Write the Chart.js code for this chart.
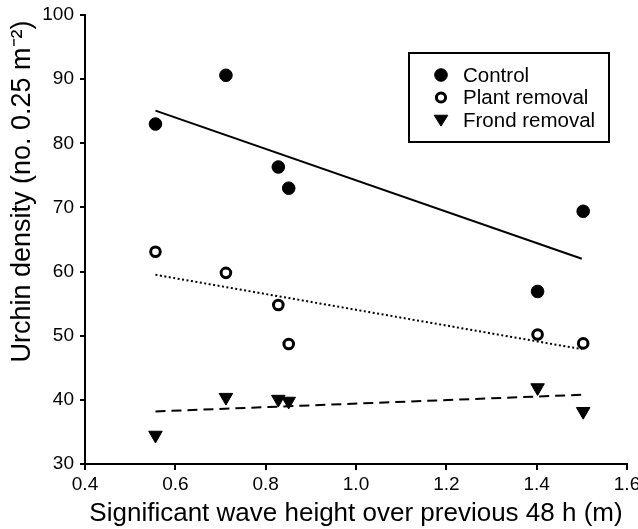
<!DOCTYPE html>
<html>
<head>
<meta charset="utf-8">
<script src="https://cdn.jsdelivr.net/npm/chart.js@4.4.0/dist/chart.umd.min.js"></script>
<style>
  html, body { margin: 0; padding: 0; background: #fff; }
  #wrap { width: 638px; height: 529px; }
</style>
</head>
<body>
<div id="wrap"><canvas id="chart" width="638" height="529"></canvas></div>
<script>
// wave height (m) for each sampling date
const waveHeight = [0.556, 0.712, 0.828, 0.851, 1.402, 1.503];

// urchin density per treatment
const controlDensity = [83.0, 90.6, 76.3, 73.0, 56.9, 69.4];
const plantDensity = [63.1, 59.8, 54.8, 48.7, 50.2, 48.8];
const frondDensity = [34.5, 40.4, 40.1, 39.8, 41.9, 38.2];

// fitted lines, read at their two ends
const fitX = [0.556, 1.5];
const controlFit = [85.1, 62.0];
const plantFit = [59.5, 47.9];
const frondFit = [38.2, 40.8];

const xTicks = [0.4, 0.6, 0.8, 1.0, 1.2, 1.4, 1.6];

const FONT = "'Liberation Sans', Arial, Helvetica, sans-serif";

function pts(xs, ys) {
  return xs.map(function (x, i) {
    return { x: x, y: ys[i] };
  });
}

// legend drawn inside the plot, with a box round it
const boxLegend = {
  id: "boxLegend",
  afterDraw(chart) {
    const ctx = chart.ctx;
    const area = chart.chartArea;
    const left = area.right - 218;
    const top = area.top + 38;
    ctx.save();
    ctx.lineWidth = 2;
    ctx.strokeStyle = "#000";
    ctx.strokeRect(left, top, 200, 89);

    const items = chart.data.datasets.filter(function (d) {
      return !d.isFit;
    });
    ctx.font = "20.5px " + FONT;
    ctx.textBaseline = "middle";
    items.forEach(function (d, i) {
      const cy = top + 22 + i * 22.5;
      const cx = left + 32;
      ctx.fillStyle = d.backgroundColor;
      ctx.strokeStyle = "#000";
      ctx.lineWidth = d.borderWidth;
      ctx.beginPath();
      if (d.pointStyle === "circle") {
        ctx.arc(cx, cy, d.legendRadius, 0, Math.PI * 2);
      } else {
        const r = d.legendRadius;
        ctx.moveTo(cx - r, cy - r * 0.7);
        ctx.lineTo(cx + r, cy - r * 0.7);
        ctx.lineTo(cx, cy + r * 0.9);
        ctx.closePath();
      }
      ctx.fill();
      ctx.stroke();
      ctx.fillStyle = "#000";
      ctx.fillText(d.label, left + 54, cy + 1);
    });
    ctx.restore();
  },
};

const chart = new Chart(document.getElementById("chart"), {
  type: "scatter",
  data: {
    datasets: [
      {
        label: "Control",
        data: pts(waveHeight, controlDensity),
        pointStyle: "circle",
        pointRadius: 6.3,
        legendRadius: 6.3,
        backgroundColor: "#000",
        borderColor: "#000",
        borderWidth: 1,
      },
      {
        label: "Plant removal",
        data: pts(waveHeight, plantDensity),
        pointStyle: "circle",
        pointRadius: 4.8,
        legendRadius: 4.6,
        backgroundColor: "#fff",
        borderColor: "#000",
        borderWidth: 3,
      },
      {
        label: "Frond removal",
        data: pts(waveHeight, frondDensity),
        pointStyle: "triangle",
        rotation: 180,
        pointRadius: 7.8,
        legendRadius: 6.8,
        backgroundColor: "#000",
        borderColor: "#000",
        borderWidth: 1,
      },
      {
        label: "Control fit",
        isFit: true,
        type: "line",
        data: pts(fitX, controlFit),
        borderColor: "#000",
        borderWidth: 2,
        pointRadius: 0,
      },
      {
        label: "Plant removal fit",
        isFit: true,
        type: "line",
        data: pts(fitX, plantFit),
        borderColor: "#000",
        borderWidth: 2,
        borderDash: [2, 2.5],
        pointRadius: 0,
      },
      {
        label: "Frond removal fit",
        isFit: true,
        type: "line",
        data: pts(fitX, frondFit),
        borderColor: "#000",
        borderWidth: 2,
        borderDash: [10, 6],
        pointRadius: 0,
      },
    ],
  },
  options: {
    responsive: false,
    animation: false,
    layout: { padding: 0 },
    plugins: {
      legend: { display: false },
      tooltip: { enabled: false },
    },
    scales: {
      x: {
        type: "linear",
        min: 0.4,
        max: 1.6,
        afterBuildTicks(scale) {
          scale.ticks = xTicks.map(function (v) {
            return { value: v };
          });
        },
        afterFit(scale) {
          scale.height = 65;
          scale.paddingRight = 11;
          scale.paddingLeft = 0;
        },
        ticks: {
          color: "#000",
          font: { family: FONT, size: 19 },
          padding: 3,
          maxRotation: 0,
          callback: function (v) {
            return v.toFixed(1);
          },
        },
        grid: {
          drawOnChartArea: false,
          drawTicks: true,
          tickLength: 6,
          color: "#000",
          lineWidth: 2,
        },
        border: { display: true, color: "#000", width: 2 },
        title: {
          display: true,
          text: "Significant wave height over previous 48 h (m)",
          color: "#000",
          font: { family: FONT, size: 26 },
          padding: { top: 0, bottom: 0 },
        },
      },
      y: {
        min: 30,
        max: 100,
        afterFit(scale) {
          scale.width = 85;
          scale.paddingTop = 15;
          scale.paddingBottom = 0;
        },
        ticks: {
          stepSize: 10,
          color: "#000",
          font: { family: FONT, size: 19 },
          padding: 6,
        },
        grid: {
          drawOnChartArea: false,
          drawTicks: true,
          tickLength: 5,
          color: "#000",
          lineWidth: 2,
        },
        border: { display: true, color: "#000", width: 2 },
        title: {
          display: true,
          align: "end",
          text: "Urchin density (no. 0.25 m\u207B\u00B2)\u2009",
          color: "#000",
          font: { family: FONT, size: 27 },
          padding: { top: 6, bottom: 0 },
        },
      },
    },
  },
  plugins: [boxLegend],
});
</script>
</body>
</html>
